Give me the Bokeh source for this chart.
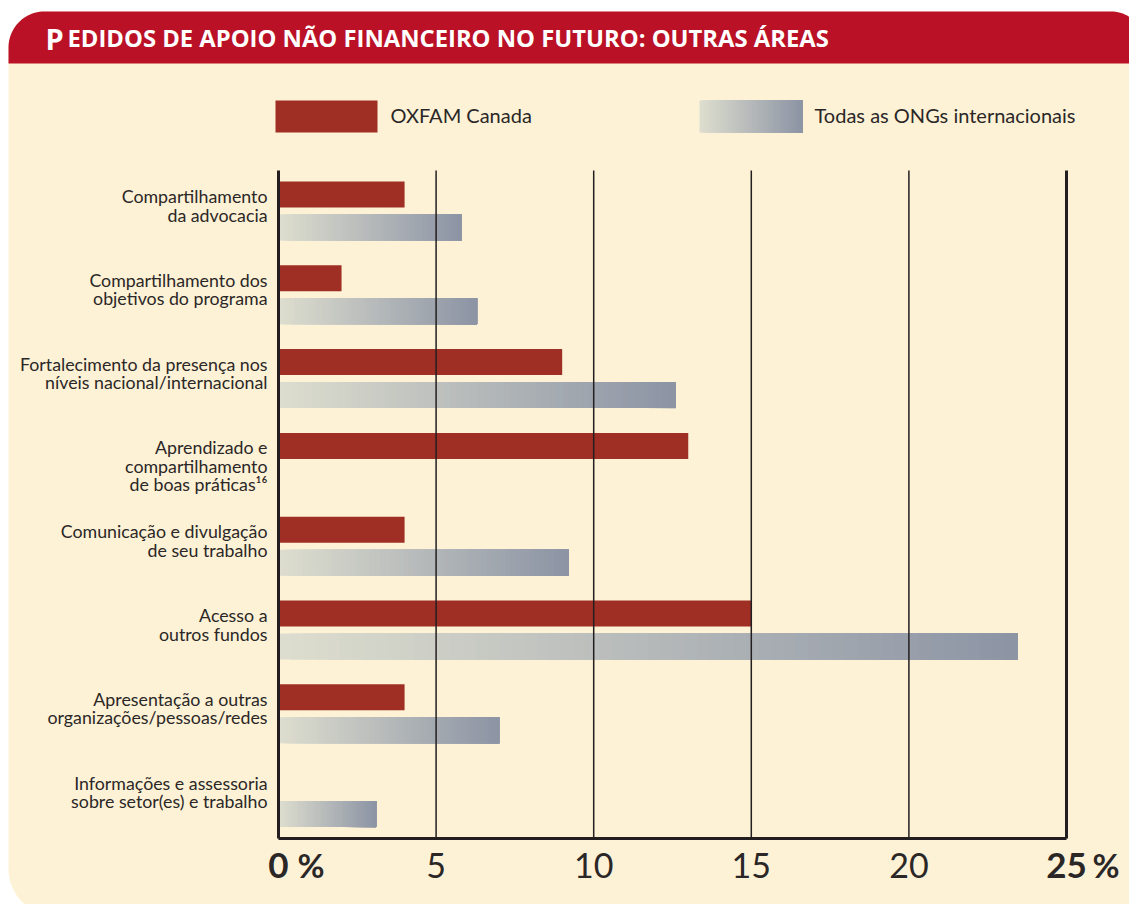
import numpy as np
from bokeh.plotting import figure
from bokeh.models import Range1d
from bokeh.core.properties import value
from bokeh.embed import file_html
from bokeh.resources import INLINE

# ---------------- data ----------------
title = "Pedidos de apoio não financeiro no futuro: outras áreas"
series_names = ["OXFAM Canada", "Todas as ONGs internacionais"]
categories = [
    "Compartilhamento\nda advocacia",
    "Compartilhamento dos\nobjetivos do programa",
    "Fortalecimento da presença nos\nníveis nacional/internacional",
    "Aprendizado e\ncompartilhamento\nde boas práticas¹⁶",
    "Comunicação e divulgação\nde seu trabalho",
    "Acesso a\noutros fundos",
    "Apresentação a outras\norganizações/pessoas/redes",
    "Informações e assessoria\nsobre setor(es) e trabalho",
]
oxfam = [4, 2, 9, 13, 4, 15, 4, 0]
todas = [5.8, 6.3, 12.6, 0, 9.2, 23.45, 7.0, 3.1]
ticks = [0, 5, 10, 15, 20, 25]
tick_labels = ["0", "5", "10", "15", "20", "25"]

# ---------------- layout / style ----------------
W, H = 1129, 904
PAGE = 0
X0_PX, X25_PX = 278, 1066          # screen x of 0 and 25
SCALE = (X25_PX - X0_PX) / 25.0
ROW_PX = 83.8                      # px between category rows
FIRST_PX = 210.5                   # screen y of first category centre
BAR_H_PX = 26
PAIR_OFF_PX = 16.5
AX_TOP, AX_BOT = 170, 838

CREAM = "#fdf2d6"
RED_HEAD = "#ba1126"
RED_BAR = "#9f2f25"
TXT = "#2b2727"
AXIS = "#231f20"
G_LIGHT = np.array([222, 222, 207])
G_DARK = np.array([140, 148, 164])
FONT = "Lato"

x_range = Range1d(-(X0_PX - PAGE) / SCALE, (PAGE + W - X0_PX) / SCALE)
y_range = Range1d((PAGE + H - FIRST_PX) / ROW_PX, (PAGE - FIRST_PX) / ROW_PX)

p = figure(width=W, height=H, x_range=x_range, y_range=y_range,
           output_backend="svg", toolbar_location=None,
           min_border=0, outline_line_color=None,
           background_fill_color="white", border_fill_color="white")
p.axis.visible = False
p.grid.visible = False
p.extra_x_ranges = {"px": Range1d(PAGE, PAGE + W)}
p.extra_y_ranges = {"px": Range1d(PAGE + H, PAGE)}


def rounded(left, top, right, bottom, r_tl, r_tr, r_br, r_bl, n=24):
    xs, ys = [], []
    def arc(cx, cy, r, a0, a1):
        t = np.radians(np.linspace(a0, a1, n))
        xs.extend(cx + r * np.cos(t)); ys.extend(cy + r * np.sin(t))
    arc(left + r_tl, top + r_tl, r_tl, 180, 270)
    arc(right - r_tr, top + r_tr, r_tr, 270, 360)
    arc(right - r_br, bottom - r_br, r_br, 0, 90)
    arc(left + r_bl, bottom - r_bl, r_bl, 90, 180)
    return list(xs), list(ys)

# panel and header
px, py = rounded(8, 11, 1146, 916, 36, 36, 0, 48)
p.patch(px, py, fill_color=CREAM, line_color=None, x_range_name="px", y_range_name="px")
hx, hy = rounded(8, 11, 1146, 63, 36, 36, 0, 0)
p.patch(hx, hy, fill_color=RED_HEAD, line_color=None, x_range_name="px", y_range_name="px")

# title in small caps
p.text(x=[45], y=[37.5], text=[title[0].upper()], text_font=value("Open Sans"),
       text_font_style="bold", text_font_size="29px", text_color="white",
       text_baseline="alphabetic", x_range_name="px", y_range_name="px")
p.text(x=[67], y=[37.5], text=[title[1:].upper()], text_font=value("Open Sans"),
       text_font_style="bold", text_font_size="23.8px", text_color="white",
       text_baseline="alphabetic", x_range_name="px", y_range_name="px")


def grad_slices(x0, x1, n=60):
    lefts, rights, cols = [], [], []
    for k in range(n):
        f = (k + 0.5) / n
        c = G_LIGHT + (G_DARK - G_LIGHT) * f
        lefts.append(x0 + (x1 - x0) * k / n)
        rights.append(x1)
        cols.append("#%02x%02x%02x" % tuple(int(round(v)) for v in c))
    return lefts, rights, cols

# legend
p.quad(left=[275], right=[377], top=[100], bottom=[132], fill_color=RED_BAR,
       line_color=None, x_range_name="px", y_range_name="px")
l, r, c = grad_slices(699, 802)
p.quad(left=l, right=r, top=[100] * len(l), bottom=[132] * len(l), fill_color=c,
       line_color=None, x_range_name="px", y_range_name="px")
p.text(x=[390, 814], y=[114, 114], text=series_names, text_font=value(FONT),
       text_font_size="20px", text_color=TXT, text_baseline="alphabetic",
       x_range_name="px", y_range_name="px")

# bars
off = PAIR_OFF_PX / ROW_PX
bh = BAR_H_PX / ROW_PX
idx = list(range(len(categories)))
oy = [i - off for i, v in zip(idx, oxfam) if v > 0]
ov = [v for v in oxfam if v > 0]
p.hbar(y=oy, left=0, right=ov, height=bh, fill_color=RED_BAR, line_color=None)

gl, gr, gc, gy = [], [], [], []
for i, v in zip(idx, todas):
    if v <= 0:
        continue
    l, r, c = grad_slices(0, v)
    gl += l; gr += r; gc += c; gy += [i + off] * len(l)
p.hbar(y=gy, left=gl, right=gr, height=bh, fill_color=gc, line_color=None)

# category labels
LAB_SIZE = 17.8
lab_top = (PAIR_OFF_PX + BAR_H_PX / 2 - 3.5) / ROW_PX
p.text(x=[267] * len(categories), y=[i - lab_top for i in idx], text=categories,
       text_font=value(FONT), text_font_size=f"{LAB_SIZE}px", text_color=TXT,
       text_align="right", text_baseline="top", text_line_height=18 / (LAB_SIZE * 1.2),
       x_range_name="px")

# grid + axes
p.segment(x0=ticks[1:-1], x1=ticks[1:-1], y0=AX_TOP, y1=AX_BOT, line_color=AXIS,
          line_width=1.5, y_range_name="px")
p.segment(x0=[ticks[0], ticks[-1]], x1=[ticks[0], ticks[-1]], y0=AX_TOP, y1=AX_BOT,
          line_color=AXIS, line_width=3, y_range_name="px")
p.segment(x0=[ticks[0]], x1=[ticks[-1]], y0=AX_BOT, y1=AX_BOT, line_color=AXIS,
          line_width=3, y_range_name="px")

# tick labels
TICK_Y = 865
mid_t = ticks[1:-1]
p.text(x=mid_t, y=[TICK_Y] * len(mid_t), text=tick_labels[1:-1], text_font=value(FONT),
       text_font_size="34px", text_color=TXT, text_align="center",
       text_baseline="alphabetic", y_range_name="px")
ends = [ticks[0], ticks[-1]]
p.text(x=ends, y=[TICK_Y] * 2, text=[tick_labels[0], tick_labels[-1]], text_font=value(FONT),
       text_font_size="35px", text_font_style="bold", text_color=TXT, text_align="center",
       text_baseline="alphabetic", y_range_name="px")
p.text(x=ends, y=[TICK_Y - 1] * 2, text=["%", "%"], x_offset=[19, 26], text_font=value(FONT),
       text_font_size="33px", text_font_style="bold", text_color=TXT, text_align="left",
       text_baseline="alphabetic", y_range_name="px")

open("out.html", "w").write(file_html(p, INLINE))
